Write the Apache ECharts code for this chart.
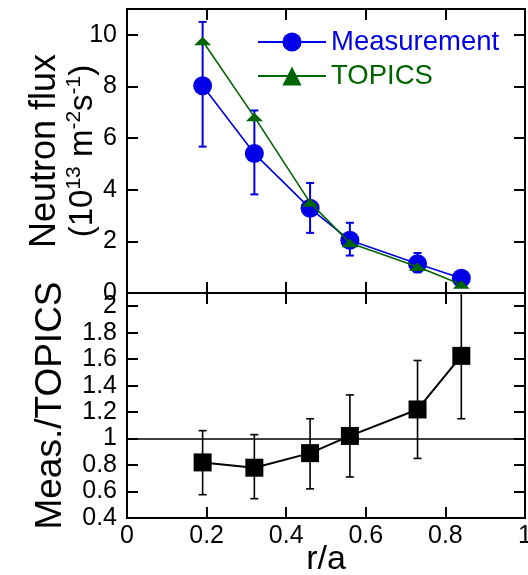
<!DOCTYPE html>
<html><head><meta charset="utf-8">
<script src="https://cdn.jsdelivr.net/npm/echarts@6/dist/echarts.min.js"></script>
<style>html,body{margin:0;padding:0;background:#fff}#c{width:528px;height:575px}</style>
</head><body><div id="c"></div>
<script>
// ---- data ----
const rOverA = [0.19, 0.32, 0.46, 0.56, 0.73, 0.84];
const measurement = [8.03, 5.4, 3.28, 2.04, 1.13, 0.57];
const measLow = [5.67, 3.82, 2.33, 1.45, 0.8, 0.45];
const measHigh = [10.5, 7.07, 4.26, 2.72, 1.55, 0.7];
const topics = [9.76, 6.82, 3.5, 1.94, 1.02, 0.33];
const ratio = [0.82, 0.78, 0.89, 1.02, 1.22, 1.625];
const ratioLow = [0.576, 0.546, 0.62, 0.71, 0.85, 1.15];
const ratioHigh = [1.06, 1.03, 1.15, 1.33, 1.59, 2.1];
const seriesNames = ['Measurement', 'TOPICS'];

const FONT = '"Liberation Sans", Arial, sans-serif';
const BLUE = '#0000e6';
const GREEN = '#006400';
const BLACK = '#000';
const TRI = 'path://M0,12 L8.5,0 L17,12 Z';

const chart = echarts.init(document.getElementById('c'), null, {renderer: 'canvas'});

function errorBars(lo, hi, color, width, cap, xi, yi) {
  return {
    type: 'custom', xAxisIndex: xi, yAxisIndex: yi, z: 1, silent: true,
    encode: {x: 0, y: [1, 2]},
    data: rOverA.map((x, i) => [x, lo[i], hi[i]]),
    renderItem: (params, api) => {
      const x = api.value(0);
      const p1 = api.coord([x, api.value(1)]);
      const p2 = api.coord([x, api.value(2)]);
      const st = {stroke: color, lineWidth: width};
      return {type: 'group', children: [
        {type: 'line', shape: {x1: p1[0], y1: p1[1], x2: p2[0], y2: p2[1]}, style: st},
        {type: 'line', shape: {x1: p1[0] - cap, y1: p1[1], x2: p1[0] + cap, y2: p1[1]}, style: st},
        {type: 'line', shape: {x1: p2[0] - cap, y1: p2[1], x2: p2[0] + cap, y2: p2[1]}, style: st}
      ]};
    }
  };
}

const tick = {show: true, inside: true, length: 11, lineStyle: {color: BLACK, width: 2}};
const line = {show: true, onZero: false, lineStyle: {color: BLACK, width: 2}};
const lbl = {color: BLACK, fontSize: 25, fontFamily: FONT, hideOverlap: false};

function xAx(grid, pos, showLabel, extra) {
  return Object.assign({
    type: 'value', gridIndex: grid, position: pos, min: 0, max: 1, interval: 0.2,
    axisLine: Object.assign({}, line), axisTick: Object.assign({}, tick), splitLine: {show: false}, nameMoveOverlap: false,
    axisLabel: Object.assign({show: showLabel, margin: 6, showMinLabel: true, showMaxLabel: true}, lbl)
  }, extra || {});
}
function yAx(grid, pos, showLabel, min, max, interval, extra) {
  return Object.assign({
    type: 'value', gridIndex: grid, position: pos, min: min, max: max, interval: interval,
    axisLine: Object.assign({}, line), axisTick: Object.assign({}, tick), splitLine: {show: false}, nameMoveOverlap: false,
    axisLabel: Object.assign({show: showLabel, margin: 10, showMinLabel: true, showMaxLabel: false}, lbl)
  }, extra || {});
}

chart.setOption({
  animation: false,
  backgroundColor: '#fff',
  grid: [
    {left: 127, right: 3, top: 9, height: 284, show: true, borderColor: BLACK, borderWidth: 2,
     containLabel: false, outerBoundsMode: 'none'},
    {left: 127, right: 3, top: 293, bottom: 57, show: true, borderColor: BLACK, borderWidth: 2,
     containLabel: false, outerBoundsMode: 'none'}
  ],
  xAxis: [
    xAx(0, 'bottom', false),
    xAx(0, 'top', false),
    xAx(1, 'bottom', true, {name: 'r/a', nameLocation: 'middle', nameGap: 25,
      nameTextStyle: {color: BLACK, fontSize: 34, fontFamily: FONT}}),
    xAx(1, 'top', false)
  ],
  yAxis: [
    yAx(0, 'left', true, 0, 11, 2, {
      name: '{a|Neutron flux}\n{b|(10}{s|13}{b| m}{s|-2}{b|s}{s|-1}{b|)}',
      nameLocation: 'middle', nameRotate: 90, nameGap: 25,
      nameTextStyle: {color: BLACK, fontFamily: FONT, rich: {
        a: {fontSize: 36, lineHeight: 38, fontFamily: FONT, color: BLACK},
        b: {fontSize: 33, lineHeight: 38, fontFamily: FONT, color: BLACK},
        s: {fontSize: 21, lineHeight: 24, verticalAlign: 'top', fontFamily: FONT, color: BLACK}
      }}
    }),
    yAx(0, 'right', false, 0, 11, 2),
    yAx(1, 'left', true, 0.4, 2.1, 0.2, {
      name: 'Meas./TOPICS', nameLocation: 'middle', nameRotate: 90, nameGap: 56,
      nameTextStyle: {color: BLACK, fontSize: 37, lineHeight: 40, fontFamily: FONT}
    }),
    yAx(1, 'right', false, 0.4, 2.1, 0.2)
  ],
  legend: {
    orient: 'vertical', left: 257, top: 28, padding: 0,
    itemWidth: 68, itemHeight: 24, itemGap: 6,
    textStyle: {fontSize: 27.5, fontFamily: FONT, lineHeight: 24},
    data: [
      {name: seriesNames[0], textStyle: {color: BLUE}},
      {name: seriesNames[1], textStyle: {color: GREEN}}
    ]
  },
  series: [
    errorBars(measLow, measHigh, BLUE, 2, 4, 0, 0),
    {
      name: seriesNames[0], type: 'line', xAxisIndex: 0, yAxisIndex: 0, z: 3,
      data: rOverA.map((x, i) => [x, measurement[i]]),
      symbol: 'circle', symbolSize: 19,
      itemStyle: {color: BLUE}, lineStyle: {color: BLUE, width: 1.6}
    },
    {
      name: seriesNames[1], type: 'line', xAxisIndex: 0, yAxisIndex: 0, z: 4,
      data: rOverA.map((x, i) => [x, topics[i]]),
      symbol: TRI, symbolSize: [17, 12], symbolKeepAspect: true,
      itemStyle: {color: GREEN}, lineStyle: {color: GREEN, width: 1.6}
    },
    errorBars(ratioLow, ratioHigh, BLACK, 1.6, 4, 2, 2),
    {
      name: 'ratio', type: 'line', xAxisIndex: 2, yAxisIndex: 2, z: 3,
      data: rOverA.map((x, i) => [x, ratio[i]]),
      symbol: 'rect', symbolSize: 18,
      itemStyle: {color: BLACK}, lineStyle: {color: BLACK, width: 2},
      markLine: {
        silent: true, symbol: 'none', label: {show: false},
        lineStyle: {color: BLACK, width: 1.6, type: 'solid'},
        data: [{yAxis: 1}]
      }
    }
  ]
});
</script>
</body></html>
